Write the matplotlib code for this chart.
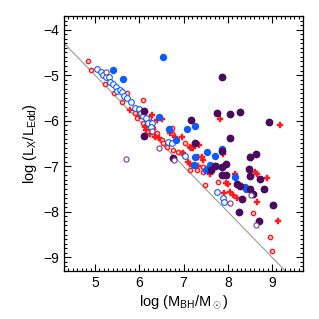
import matplotlib
matplotlib.use("Agg")
import matplotlib.pyplot as plt
import numpy as np

plt.rcParams['font.family'] = ['Liberation Sans', 'DejaVu Sans']
plt.rcParams['mathtext.fontset'] = 'custom'
plt.rcParams['mathtext.rm'] = 'Liberation Sans'
plt.rcParams['mathtext.it'] = 'Liberation Sans:italic'

# azul abiertos
bo_x = [5.05, 5.14, 5.19, 5.24, 5.32, 5.35, 5.41, 5.47, 5.50, 5.56, 5.62, 5.66, 5.73, 5.81,
        5.90, 5.99, 6.05, 6.09, 6.15, 6.20, 6.28, 6.26, 6.65, 6.73, 7.03, 7.75, 7.90, 7.91]
bo_y = [-4.87, -4.94, -5.00, -5.04, -5.04, -5.15, -5.20, -5.26, -5.34, -5.32, -5.37, -5.45, -5.51, -5.60,
        -5.73, -5.75, -5.84, -5.90, -5.95, -6.05, -6.06, -6.13, -6.46, -6.50, -6.78, -7.56, -7.69, -7.79]

# azul llenos
bf_x = [5.41, 5.64, 6.54, 6.45, 6.68, 6.82, 7.08, 7.27, 7.54, 7.88, 7.71, 7.26, 7.24, 7.60,
        7.73, 7.51, 8.16, 8.39, 8.41]
bf_y = [-4.89, -5.09, -4.60, -5.91, -6.19, -6.43, -6.18, -6.11, -6.68, -6.63, -6.78, -6.80, -6.97, -6.97,
        -7.00, -7.08, -7.23, -7.45, -7.51]

# violeta llenos
pf_x = [6.10, 6.11, 7.87, 7.75, 8.05, 8.27, 8.93, 7.18, 8.06, 7.27, 7.87, 8.50, 8.63, 6.77,
        7.72, 7.86, 7.96, 7.88, 7.96, 8.48, 8.72, 8.21, 8.27, 8.50, 8.56, 8.81, 8.51, 9.01,
        8.25, 8.71, 8.31, 7.63]
pf_y = [-5.78, -6.34, -5.04, -5.82, -5.86, -5.81, -6.02, -5.99, -6.37, -6.50, -6.66, -6.80, -6.73, -6.83,
        -6.99, -7.01, -6.95, -7.19, -7.19, -7.05, -7.29, -7.39, -7.43, -7.51, -7.61, -7.51, -7.21, -7.85,
        -8.01, -8.20, -7.72, -7.08]

# violeta abiertos
po_x = [5.26, 5.69, 6.45, 6.28, 6.78, 8.06, 8.52, 8.63]
po_y = [-4.94, -6.85, -6.61, -6.23, -6.86, -7.81, -7.63, -8.29]

# rojos abiertos
ro_x = [4.85, 4.92, 5.23, 5.43, 5.72, 6.08, 5.60, 5.90, 5.94, 6.09, 6.23, 6.32, 6.39, 6.51,
        6.54, 6.73, 6.62, 6.77, 6.88, 7.03, 7.22, 7.30, 7.14, 7.44, 6.96, 6.74, 7.44, 7.78,
        7.48, 8.56, 8.95, 8.99]
ro_y = [-4.69, -4.89, -5.20, -5.39, -5.40, -5.55, -5.59, -5.83, -5.95, -6.06, -5.95, -6.15, -6.28, -6.43,
        -6.48, -6.28, -6.57, -6.64, -6.68, -6.50, -6.97, -7.08, -7.08, -7.12, -6.72, -6.17, -7.01, -7.34,
        -7.41, -8.02, -8.56, -8.87]

# rojos llenos
rf_x = [5.79, 6.02, 6.13, 6.28, 6.39, 6.51, 6.45, 6.69, 6.81, 6.96, 7.14, 7.18, 6.99, 7.11,
        7.33, 7.82, 7.22, 7.35, 7.41, 7.44, 7.90, 7.33, 7.52, 7.14, 8.16, 8.61, 9.18, 7.60,
        7.91, 7.97, 8.01, 8.05, 8.12, 8.21, 8.65, 8.88, 8.66, 9.14, 6.15, 6.25, 6.35]
rf_y = [-5.77, -5.90, -6.13, -5.88, -5.99, -5.97, -6.39, -6.28, -6.35, -6.35, -6.57, -6.59, -6.72, -6.90,
        -6.79, -5.96, -6.61, -6.54, -6.80, -6.86, -6.73, -7.00, -7.07, -6.94, -7.16, -7.12, -6.09, -7.17,
        -7.59, -7.36, -7.38, -7.56, -7.63, -7.70, -7.16, -7.25, -7.78, -8.20, -6.20, -6.30, -6.35]

blue = "#0a5cff"
purple = "#4a0a5e"
purple_o = "#7a3a8c"
red = "#ff1a1a"

fig = plt.figure(figsize=(3.19, 3.19), dpi=100)
ax = fig.add_axes([0.2006, 0.1505, 0.7494, 0.7995])

xl = np.array([4.3, 9.7])
ax.plot(xl, -xl, color="#9a9a9a", lw=0.8, zorder=1)

ax.plot(ro_x, ro_y, 'o', ms=3.1, mfc="#ffd8d8", mec=red, mew=1.0, ls='none', zorder=2)
ax.plot(rf_x, rf_y, 'P', ms=3.8, mfc=red, mec=red, mew=0.3, ls='none', zorder=3)
ax.plot(bo_x, bo_y, 'o', ms=4.1, mfc='white', mec=blue, mew=0.8, ls='none', zorder=4)
ax.plot(bf_x, bf_y, 'o', ms=4.3, mfc=blue, mec=blue, ls='none', zorder=4)
ax.plot(pf_x, pf_y, 'o', ms=4.6, mfc=purple, mec=purple, ls='none', zorder=4)
ax.plot(po_x, po_y, 'o', ms=3.7, mfc='white', mec=purple_o, mew=0.8, ls='none', zorder=4)

ax.set_xlim(4.3, 9.7)
ax.set_ylim(-9.3, -3.7)
ax.set_xticks([5, 6, 7, 8, 9])
ax.set_yticks([-9, -8, -7, -6, -5, -4])
ax.set_xticklabels(['5', '6', '7', '8', '9'])
ax.set_yticklabels(['\u22129', '\u22128', '\u22127', '\u22126', '\u22125', '\u22124'])
ax.xaxis.set_minor_locator(matplotlib.ticker.MultipleLocator(0.1))
ax.yaxis.set_minor_locator(matplotlib.ticker.MultipleLocator(0.1))
ax.tick_params(which='both', direction='in', top=True, right=True, labelsize=10, width=0.8)
ax.tick_params(which='major', length=5)
ax.tick_params(which='minor', length=2.5)
for s in ax.spines.values():
    s.set_linewidth(0.9)

ax.set_xlabel(r'log (M$_{\rm BH}$/M$_\odot$)', fontsize=10.5, labelpad=3)
ax.set_ylabel(r'log (L$_{\rm X}$/L$_{\rm Edd}$)', fontsize=10.5, labelpad=3)

fig.savefig("out.png", dpi=100)
